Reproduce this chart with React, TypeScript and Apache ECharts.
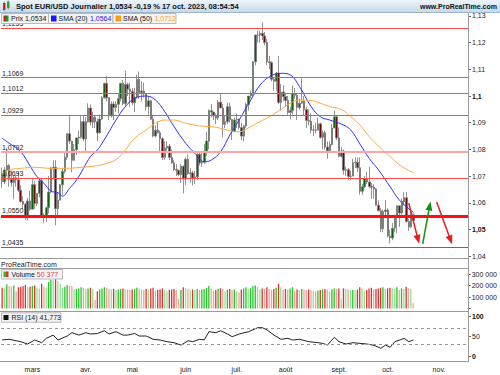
import React, { useEffect, useRef } from 'react';
import * as echarts from 'echarts';

const FONT = '"Liberation Sans", Arial, sans-serif';

// calendar: weekday slots starting 10 Feb 2023 (axis runs past the data to late November)
const firstDay = { year: 2023, month: 1, day: 10 };
const slotCount = 201;
const monthNames = ['janv.', 'févr.', 'mars', 'avr.', 'mai', 'juin', 'juil.', 'août', 'sept.', 'oct.', 'nov.', 'déc.'];

// daily EUR/USD, 10 Feb -> 17 Oct 2023 (open = previous close)
const firstOpen = 1.071;
const closes = [
  // févr.
  1.0679, 1.0723, 1.074, 1.0688, 1.0676, 1.0694, 1.0686, 1.0647, 1.0605, 1.0595, 1.0546, 1.0607, 1.0576,
  // mars
  1.0668, 1.0597, 1.0635, 1.0683, 1.0548, 1.0545, 1.0581, 1.064, 1.073, 1.0733, 1.0578, 1.061, 1.0668, 1.0718, 1.0771, 1.0859, 1.0831, 1.0759, 1.0799, 1.0843, 1.0846, 1.0904, 1.0839,
  // avr.
  1.0904, 1.0955, 1.0902, 1.0921, 1.0904, 1.0862, 1.0914, 1.0993, 1.1047, 1.0993, 1.0925, 1.097, 1.0957, 1.0969, 1.099, 1.1047, 1.0972, 1.1043, 1.1026, 1.1017,
  // mai
  1.0975, 1.0996, 1.1062, 1.1013, 1.1019, 1.1008, 1.096, 1.0982, 1.0913, 1.085, 1.0872, 1.0862, 1.084, 1.077, 1.0805, 1.0812, 1.077, 1.075, 1.0725, 1.0722, 1.0706, 1.0737, 1.0689,
  // juin
  1.0763, 1.0709, 1.0712, 1.0693, 1.0697, 1.0781, 1.0749, 1.0752, 1.0792, 1.0831, 1.0945, 1.094, 1.0925, 1.0918, 1.0977, 1.0955, 1.0894, 1.0904, 1.096, 1.0912, 1.0866, 1.091,
  // juil.
  1.0913, 1.0882, 1.085, 1.0888, 1.0968, 1.1, 1.1009, 1.1128, 1.1228, 1.1228, 1.1235, 1.1225, 1.12, 1.1128, 1.1125, 1.1063, 1.1055, 1.1086, 1.0976, 1.1015, 1.0998,
  // août
  1.0983, 1.0938, 1.0946, 1.101, 1.1003, 1.0957, 1.0973, 1.098, 1.0949, 1.0908, 1.0905, 1.0872, 1.0873, 1.0872, 1.0896, 1.0845, 1.0862, 1.0809, 1.0795, 1.0818, 1.088, 1.0922, 1.0843,
  // sept.
  1.0774, 1.0794, 1.0722, 1.0724, 1.0699, 1.07, 1.075, 1.0752, 1.0731, 1.0643, 1.066, 1.069, 1.0678, 1.0661, 1.0658, 1.0652, 1.0591, 1.057, 1.0503, 1.0567, 1.0573,
  // oct.
  1.0476, 1.0468, 1.0505, 1.0549, 1.0589, 1.0562, 1.0605, 1.0619, 1.053, 1.051, 1.0555, 1.0534,
];
const highs = [
  1.0732, 1.0734, 1.0805, 1.0745, 1.072, 1.07, 1.0703, 1.0715, 1.0665, 1.0625, 1.06, 1.0618, 1.0645,
  1.0691, 1.068, 1.0636, 1.0694, 1.0694, 1.056, 1.0585, 1.07, 1.0735, 1.076, 1.076, 1.0637, 1.067, 1.073, 1.0788, 1.086, 1.093, 1.083, 1.082, 1.0845, 1.087, 1.0926, 1.0925,
  1.092, 1.0973, 1.0968, 1.0941, 1.0925, 1.0915, 1.093, 1.1, 1.105, 1.1075, 1.0995, 1.098, 1.098, 1.098, 1.101, 1.105, 1.106, 1.1095, 1.105, 1.105,
  1.103, 1.103, 1.108, 1.1092, 1.1055, 1.105, 1.101, 1.1, 1.0985, 1.093, 1.089, 1.0905, 1.087, 1.0845, 1.083, 1.083, 1.082, 1.08, 1.076, 1.0745, 1.072, 1.0745, 1.074,
  1.077, 1.078, 1.073, 1.072, 1.072, 1.0785, 1.079, 1.079, 1.082, 1.0865, 1.095, 1.097, 1.0935, 1.0935, 1.0985, 1.101, 1.097, 1.0925, 1.0975, 1.0975, 1.0915, 1.092,
  1.0935, 1.0915, 1.09, 1.089, 1.0975, 1.1, 1.102, 1.113, 1.123, 1.1245, 1.1245, 1.1276, 1.124, 1.1215, 1.115, 1.113, 1.107, 1.109, 1.115, 1.1045, 1.104,
  1.101, 1.1, 1.096, 1.104, 1.103, 1.101, 1.099, 1.1065, 1.1, 1.096, 1.095, 1.0935, 1.089, 1.09, 1.092, 1.09, 1.087, 1.087, 1.083, 1.083, 1.0895, 1.0945, 1.093,
  1.0882, 1.081, 1.08, 1.0735, 1.073, 1.072, 1.0765, 1.077, 1.077, 1.077, 1.067, 1.07, 1.0715, 1.0735, 1.0675, 1.067, 1.0655, 1.061, 1.058, 1.0575, 1.061,
  1.058, 1.05, 1.0525, 1.0555, 1.059, 1.057, 1.0615, 1.064, 1.064, 1.054, 1.0565, 1.056,
];
const lows = [
  1.0656, 1.067, 1.07, 1.066, 1.066, 1.0613, 1.066, 1.064, 1.06, 1.0577, 1.0536, 1.0533, 1.057,
  1.0576, 1.0577, 1.0588, 1.062, 1.0548, 1.0524, 1.0528, 1.056, 1.0635, 1.069, 1.0516, 1.055, 1.061, 1.063, 1.071, 1.076, 1.082, 1.0714, 1.076, 1.078, 1.082, 1.084, 1.083,
  1.079, 1.09, 1.089, 1.088, 1.088, 1.083, 1.086, 1.091, 1.099, 1.098, 1.091, 1.092, 1.091, 1.094, 1.0935, 1.098, 1.0965, 1.096, 1.1, 1.096,
  1.0965, 1.094, 1.099, 1.099, 1.098, 1.0995, 1.0945, 1.093, 1.091, 1.0845, 1.0845, 1.086, 1.079, 1.076, 1.076, 1.0795, 1.076, 1.0745, 1.072, 1.07, 1.07, 1.0675, 1.0635,
  1.0665, 1.0705, 1.0675, 1.0665, 1.067, 1.0685, 1.074, 1.0735, 1.0745, 1.0775, 1.08, 1.092, 1.091, 1.0895, 1.091, 1.0955, 1.0845, 1.088, 1.0895, 1.09, 1.0835, 1.0865,
  1.088, 1.0875, 1.0835, 1.083, 1.088, 1.0945, 1.099, 1.1, 1.1115, 1.12, 1.12, 1.121, 1.119, 1.1115, 1.11, 1.1055, 1.102, 1.102, 1.097, 1.0945, 1.098,
  1.096, 1.093, 1.0912, 1.093, 1.099, 1.091, 1.095, 1.097, 1.0925, 1.088, 1.089, 1.086, 1.085, 1.086, 1.0885, 1.084, 1.08, 1.08, 1.0765, 1.079, 1.0815, 1.088, 1.0835,
  1.077, 1.077, 1.0705, 1.07, 1.0685, 1.0685, 1.07, 1.073, 1.0715, 1.063, 1.063, 1.0655, 1.067, 1.0655, 1.0615, 1.0615, 1.059, 1.057, 1.049, 1.049, 1.055,
  1.047, 1.0448, 1.046, 1.049, 1.0485, 1.051, 1.0555, 1.059, 1.0525, 1.0495, 1.0505, 1.053,
];
const volumes = [
  180000, 175000, 210000, 195000, 190000, 200000, 150000, 185000, 190000, 195000, 205000, 185000, 190000,
  195000, 200000, 180000, 175000, 215000, 190000, 185000, 230000, 250000, 245000, 260000, 240000, 215000, 180000, 190000, 205000, 200000, 195000, 165000, 170000, 175000, 185000, 180000,
  170000, 175000, 180000, 170000, 75000, 150000, 165000, 175000, 185000, 180000, 170000, 165000, 170000, 160000, 165000, 170000, 175000, 170000, 165000, 160000,
  165000, 170000, 180000, 175000, 165000, 160000, 170000, 165000, 175000, 180000, 155000, 160000, 165000, 175000, 160000, 150000, 160000, 165000, 170000, 160000, 85000, 160000, 185000,
  180000, 170000, 160000, 165000, 160000, 170000, 160000, 165000, 170000, 180000, 195000, 175000, 150000, 160000, 170000, 175000, 170000, 150000, 165000, 170000, 160000, 165000,
  150000, 140000, 165000, 175000, 185000, 170000, 175000, 195000, 200000, 190000, 165000, 175000, 170000, 185000, 170000, 165000, 170000, 180000, 215000, 185000, 160000,
  170000, 165000, 175000, 185000, 155000, 165000, 160000, 170000, 165000, 160000, 165000, 160000, 155000, 150000, 155000, 160000, 165000, 170000, 165000, 150000, 165000, 175000, 170000,
  175000, 90000, 175000, 170000, 165000, 160000, 160000, 155000, 165000, 185000, 175000, 155000, 160000, 175000, 180000, 165000, 170000, 175000, 180000, 185000, 170000,
  175000, 180000, 175000, 170000, 185000, 160000, 175000, 170000, 190000, 175000, 170000, 50377,
];

// indicators: [slot index, value]
const sma20Points = [
  [0, 1.0842], [3, 1.0823], [8, 1.0791], [12, 1.0738], [15, 1.0698], [18, 1.0673], [21, 1.0644], [24, 1.0638], [26, 1.0625],
  [29, 1.0654], [32, 1.0685], [35, 1.0729], [38, 1.0773], [41, 1.0798], [43, 1.0823], [46, 1.0866], [49, 1.091], [53, 1.096],
  [57, 1.0991], [62, 1.1], [66, 1.0985], [70, 1.0941], [74, 1.0885], [79, 1.0823], [83, 1.0785], [87, 1.0754], [90, 1.076],
  [94, 1.0791], [98, 1.0854], [102, 1.091], [107, 1.0985], [111, 1.1041], [115, 1.1072], [120, 1.1085], [124, 1.1079],
  [128, 1.1035], [133, 1.096], [137, 1.0922], [141, 1.091], [146, 1.0895], [150, 1.0873], [154, 1.082], [158, 1.0766],
  [162, 1.0723], [167, 1.066], [171, 1.061], [177, 1.0564],
];
const sma50Points = [
  [0, 1.071], [3, 1.0723], [8, 1.0729], [14, 1.0733], [21, 1.0729], [27, 1.0729], [34, 1.0733], [40, 1.0738], [44, 1.0745],
  [49, 1.0762], [53, 1.0798], [57, 1.0842], [62, 1.0873], [66, 1.0898], [70, 1.091], [74, 1.091], [79, 1.0898], [85, 1.0888],
  [92, 1.0883], [98, 1.087], [102, 1.0866], [107, 1.0885], [111, 1.0904], [115, 1.0922], [120, 1.095], [124, 1.0973],
  [128, 1.0985], [133, 1.0983], [137, 1.0973], [141, 1.096], [146, 1.095], [150, 1.0922], [154, 1.0891], [158, 1.0848],
  [163, 1.0804], [167, 1.0773], [171, 1.0742], [177, 1.0712],
];
const rsiPoints = [
  [0, 42], [3, 43.5], [8, 37.5], [11, 31.7], [14, 41.7], [17, 35], [19, 46], [22, 54], [24, 41.7], [28, 51.7], [30, 60],
  [33, 54], [36, 60], [38, 56.7], [41, 58], [44, 65], [46, 56.7], [49, 62.5], [52, 54], [54, 54], [57, 58], [59, 51.7],
  [62, 51.7], [65, 43.5], [68, 41.7], [71, 37.5], [74, 35], [77, 29], [80, 40], [82, 37.5], [85, 43.5], [87, 42], [89, 62.5],
  [92, 60], [94, 65], [97, 56.7], [99, 50], [102, 56.7], [106, 62.5], [110, 72.5], [112, 72.5], [114, 67], [117, 54],
  [120, 43.5], [123, 46], [125, 41.7], [128, 43.5], [132, 37.5], [136, 35], [138, 33.3], [140, 29], [143, 48.5], [145, 37.5],
  [148, 31.7], [151, 35], [154, 33.3], [157, 31.7], [160, 28.5], [163, 21], [165, 29], [167, 23.5], [169, 37.5], [172, 43.5],
  [173, 46], [175, 37.5], [177, 41.773],
];

// drawn levels and annotations
const levelValues = [1.1255, 1.1069, 1.1012, 1.0929, 1.0792, 1.0693];
const pivotLevel = 1.055;
const supportLevel = 1.0435;
const lastPrice = 1.0534;
const lastSma20 = 1.0564;
const lastSma50 = 1.0712;
const lastVolume = 50377;
const lastRsi = 41.773;
const rsiBands = [70, 30];
// [fromSlot, fromValue, toSlot, toValue]
const arrowPaths = [
  [175, 1.0599, 179, 1.0463],
  [181, 1.0446, 184, 1.0588],
  [187, 1.0603, 193, 1.0461],
];
const arrowColors = ['#e41e1e', '#158f15', '#e41e1e'];

function buildSlots(): string[] {
  const out: string[] = [];
  const d = new Date(Date.UTC(firstDay.year, firstDay.month, firstDay.day));
  while (out.length < slotCount) {
    const wd = d.getUTCDay();
    if (wd !== 0 && wd !== 6) out.push(d.toISOString().slice(0, 10));
    d.setUTCDate(d.getUTCDate() + 1);
  }
  return out;
}

const fmtPrice = (v: number, digits = 4) => v.toFixed(digits).replace('.', ',');
const fmtThousands = (v: number) => String(Math.round(v)).replace(/\B(?=(\d{3})+(?!\d))/g, ' ');

export default function App() {
  const ref = useRef<HTMLDivElement>(null);

  useEffect(() => {
    if (!ref.current) return;
    const chart = echarts.init(ref.current, undefined, { renderer: 'svg' });
    const slots = buildSlots();

    const candles = closes.map((c, i) => {
      const o = i === 0 ? firstOpen : closes[i - 1];
      return [o, c, Math.min(lows[i], o, c), Math.max(highs[i], o, c)];
    });
    const volData = volumes.map((v, i) => {
      const up = candles[i][1] >= candles[i][0];
      const weaker = i > 0 && v < volumes[i - 1];
      const color = up ? (weaker ? '#93e293' : '#22c622') : (weaker ? '#f3a0a0' : '#e23030');
      return { value: v, itemStyle: { color } };
    });

    const gridLeft = 1;
    const gridRight = 32;

    const levelLines = levelValues.map((v) => ({
      yAxis: v,
      lineStyle: v === 1.0792 ? { color: '#ffa3a3', width: 2, type: 'solid' } : { color: '#ff4a4a', width: 1, type: 'solid' },
      label: { show: true, position: 'insideStartTop', formatter: fmtPrice(v), color: '#222', fontSize: 7, fontFamily: FONT, distance: [1, 1] },
    }));
    const arrowLines = arrowPaths.map((a, k) => [
      { coord: [a[0], a[1]], symbol: 'none', lineStyle: { color: arrowColors[k], width: 1.5, type: 'solid' } },
      { coord: [a[2], a[3]], symbol: 'triangle', symbolSize: [7, 9], itemStyle: { color: arrowColors[k] }, lineStyle: { color: arrowColors[k], width: 1.5, type: 'solid' } },
    ]);

    const option: any = {
      animation: false,
      backgroundColor: '#ffffff',
      textStyle: { fontFamily: FONT },
      grid: [
        { left: gridLeft, right: gridRight, top: 15.9, height: 240.3 },
        { left: gridLeft, right: gridRight, top: 274, height: 34.5 },
        { left: gridLeft, right: gridRight, top: 316.7, height: 40 },
      ],
      xAxis: [0, 1, 2].map((g) => ({
        type: 'category',
        gridIndex: g,
        data: slots,
        boundaryGap: true,
        show: g === 2,
        axisLine: { show: false },
        axisTick: { show: false },
        splitLine: { show: false },
        axisLabel: {
          show: g === 2,
          fontSize: 7,
          color: '#222',
          fontFamily: FONT,
          margin: 9,
          interval: (idx: number) => idx > 0 && slots[idx].slice(5, 7) !== slots[idx - 1].slice(5, 7),
          formatter: (val: string) => monthNames[Number(val.slice(5, 7)) - 1],
        },
      })),
      yAxis: [
        {
          type: 'value', gridIndex: 0, position: 'right', min: 1.04, max: 1.13, interval: 0.01, scale: true,
          axisLine: { show: false }, splitLine: { show: false },
          axisTick: { show: true, length: 3, lineStyle: { color: '#666' } },
          axisLabel: {
            fontSize: 7, color: '#222', margin: 4, fontFamily: FONT,
            formatter: (v: number) => {
              const s = String(Number(v.toFixed(4))).replace('.', ',');
              return Math.abs(v - 1.1) < 1e-6 || Math.abs(v - 1.05) < 1e-6 ? `{b|${s}}` : s;
            },
            rich: { b: { fontWeight: 'bold', fontSize: 7, fontFamily: FONT, color: '#111' } },
          },
        },
        {
          type: 'value', gridIndex: 1, position: 'right', min: 0, max: 300000, interval: 100000,
          axisLine: { show: false }, splitLine: { show: false },
          axisTick: { show: true, length: 3, lineStyle: { color: '#666' } },
          axisLabel: { fontSize: 7, color: '#222', margin: 4, fontFamily: FONT, formatter: (v: number) => (v === 0 ? '' : fmtThousands(v)) },
        },
        {
          type: 'value', gridIndex: 2, position: 'right', min: 0, max: 100, interval: 50,
          axisLine: { show: false }, splitLine: { show: false },
          axisTick: { show: true, length: 3, lineStyle: { color: '#666' } },
          axisLabel: {
            fontSize: 7, color: '#222', margin: 4, fontFamily: FONT,
            formatter: (v: number) => (v === 50 ? '50' : `{b|${v}}`),
            rich: { b: { fontWeight: 'bold', fontSize: 7, fontFamily: FONT, color: '#111' } },
          },
        },
      ],
      series: [
        {
          type: 'candlestick',
          xAxisIndex: 0, yAxisIndex: 0,
          data: candles,
          barWidth: 2,
          itemStyle: { color: '#0b660b', color0: '#6e0a0a', borderColor: '#777777', borderColor0: '#777777', borderWidth: 0.8 },
          markLine: {
            silent: true,
            precision: 4,
            symbol: ['none', 'none'],
            label: { show: false },
            data: [
              ...levelLines,
              {
                yAxis: pivotLevel,
                lineStyle: { color: '#ff1010', width: 3, type: 'solid' },
                label: { show: true, position: 'insideStartTop', formatter: fmtPrice(pivotLevel), color: '#222', fontSize: 7, fontFamily: FONT, distance: [1, 2] },
              },
              {
                yAxis: supportLevel,
                lineStyle: { color: '#2a9a2a', width: 1, type: 'solid' },
                label: { show: true, position: 'insideStartTop', formatter: fmtPrice(supportLevel), color: '#222', fontSize: 7, fontFamily: FONT, distance: [1, 1] },
              },
              ...arrowLines,
              {
                yAxis: lastPrice,
                lineStyle: { opacity: 0 },
                label: {
                  show: true, position: 'end', formatter: fmtPrice(lastPrice), distance: 1,
                  backgroundColor: '#ffd700', borderColor: '#b59800', borderWidth: 1, padding: [2, 2, 1, 2],
                  color: '#000', fontSize: 7.5, fontWeight: 'bold', fontFamily: FONT,
                },
              },
            ],
          },
          z: 2,
        },
        {
          type: 'line', name: 'SMA (20)', xAxisIndex: 0, yAxisIndex: 0,
          data: sma20Points, smooth: 0.4, showSymbol: false, symbol: 'none',
          lineStyle: { color: '#2f2fff', width: 1 }, z: 3,
        },
        {
          type: 'line', name: 'SMA (50)', xAxisIndex: 0, yAxisIndex: 0,
          data: sma50Points, smooth: 0.4, showSymbol: false, symbol: 'none',
          lineStyle: { color: '#ffa940', width: 1 }, z: 3,
        },
        {
          type: 'bar', name: 'Volume', xAxisIndex: 1, yAxisIndex: 1,
          data: volData, barWidth: 1.3,
          markLine: {
            silent: true, precision: 0, symbol: ['none', 'none'],
            data: [{
              yAxis: lastVolume,
              lineStyle: { opacity: 0 },
              label: {
                show: true, position: 'end', formatter: fmtThousands(lastVolume), distance: 1,
                backgroundColor: '#fff', borderColor: '#8a8a8a', borderWidth: 1, padding: [2, 2, 1, 2],
                color: '#e04a4a', fontSize: 7, fontFamily: FONT,
              },
            }],
          },
        },
        {
          type: 'line', name: 'RSI (14)', xAxisIndex: 2, yAxisIndex: 2,
          data: rsiPoints, showSymbol: false, symbol: 'none',
          lineStyle: { color: '#222', width: 1 },
          markLine: {
            silent: true, precision: 3, symbol: ['none', 'none'],
            label: { show: false },
            data: [
              ...rsiBands.map((b) => ({ yAxis: b, lineStyle: { color: '#9a9a9a', width: 1, type: [3, 3] } })),
              {
                yAxis: lastRsi,
                lineStyle: { opacity: 0 },
                label: {
                  show: true, position: 'end', formatter: fmtPrice(lastRsi, 3), distance: 1,
                  backgroundColor: '#fff', borderColor: '#8a8a8a', borderWidth: 1, padding: [2, 2, 1, 2],
                  color: '#111', fontSize: 7, fontFamily: FONT,
                },
              },
            ],
          },
        },
      ],
      graphic: [
        // title bar
        {
          type: 'rect', shape: { x: 0, y: 0, width: 500, height: 12 }, z: 50,
          style: { fill: new echarts.graphic.LinearGradient(0, 0, 0, 1, [{ offset: 0, color: '#eef5fb' }, { offset: 1, color: '#c6daeb' }]) },
        },
        { type: 'line', shape: { x1: 0, y1: 12.5, x2: 500, y2: 12.5 }, style: { stroke: '#9fb6c9', lineWidth: 1 }, z: 50 },
        { type: 'rect', shape: { x: 3, y: 3, width: 2.5, height: 7 }, style: { fill: '#d22' }, z: 51 },
        { type: 'rect', shape: { x: 7, y: 1.5, width: 2.5, height: 6.5 }, style: { fill: '#2a2' }, z: 51 },
        { type: 'line', shape: { x1: 4.25, y1: 1.5, x2: 4.25, y2: 11 }, style: { stroke: '#555', lineWidth: 0.6 }, z: 50 },
        { type: 'line', shape: { x1: 8.25, y1: 0.5, x2: 8.25, y2: 9.5 }, style: { stroke: '#555', lineWidth: 0.6 }, z: 50 },
        {
          type: 'text', x: 16, y: 6.3, z: 52,
          style: { text: `Spot EUR/USD Journalier ${fmtPrice(lastPrice)} -0,19 % 17 oct. 2023, 08:54:54`, fontSize: 7.5, fontWeight: 'bold', fontFamily: FONT, fill: '#111', verticalAlign: 'middle' },
        },
        {
          type: 'text', x: 497, y: 6.3, z: 52,
          style: { text: 'www.ProRealTime.com', fontSize: 7, fontWeight: 'bold', fontFamily: FONT, fill: '#111', align: 'right', verticalAlign: 'middle' },
        },
        // legend: Prix / SMA (20) / SMA (50)
        { type: 'rect', shape: { x: 1.5, y: 13.5, width: 47, height: 10 }, style: { fill: '#f3f3f3', stroke: '#b9b9b9', lineWidth: 1 }, z: 60 },
        { type: 'rect', shape: { x: 3.5, y: 15.5, width: 2.5, height: 6 }, style: { fill: '#c81e1e' }, z: 61 },
        { type: 'rect', shape: { x: 6, y: 15.5, width: 2.5, height: 6 }, style: { fill: '#1e9a1e' }, z: 61 },
        { type: 'text', x: 11, y: 18.7, z: 61, style: { text: `Prix ${fmtPrice(lastPrice)}`, fontSize: 7, fontFamily: FONT, fill: '#111', verticalAlign: 'middle' } },
        { type: 'rect', shape: { x: 48.5, y: 13.5, width: 64.5, height: 10 }, style: { fill: '#f3f3f3', stroke: '#b9b9b9', lineWidth: 1 }, z: 60 },
        { type: 'rect', shape: { x: 51, y: 15.5, width: 5.5, height: 6 }, style: { fill: '#1a1aff' }, z: 61 },
        {
          type: 'text', x: 58.5, y: 18.7, z: 61,
          style: { text: `{a|SMA (20) }{b|${fmtPrice(lastSma20)}}`, fontSize: 7, fontFamily: FONT, verticalAlign: 'middle', rich: { a: { fill: '#111', fontSize: 7, fontFamily: FONT }, b: { fill: '#1a1aff', fontSize: 7, fontFamily: FONT } } },
        },
        { type: 'rect', shape: { x: 113, y: 13.5, width: 63, height: 10 }, style: { fill: '#f3f3f3', stroke: '#b9b9b9', lineWidth: 1 }, z: 60 },
        { type: 'rect', shape: { x: 115.5, y: 15.5, width: 5.5, height: 6 }, style: { fill: '#ff9a1a' }, z: 61 },
        {
          type: 'text', x: 123, y: 18.7, z: 61,
          style: { text: `{a|SMA (50) }{b|${fmtPrice(lastSma50)}}`, fontSize: 7, fontFamily: FONT, verticalAlign: 'middle', rich: { a: { fill: '#111', fontSize: 7, fontFamily: FONT }, b: { fill: '#f5a030', fontSize: 7, fontFamily: FONT } } },
        },
        // panel separators and right axis line
        { type: 'line', shape: { x1: 0, y1: 258.5, x2: 468, y2: 258.5 }, style: { stroke: '#9a9a9a', lineWidth: 1 }, z: 40 },
        { type: 'line', shape: { x1: 0, y1: 268.5, x2: 468, y2: 268.5 }, style: { stroke: '#9a9a9a', lineWidth: 1 }, z: 40 },
        { type: 'line', shape: { x1: 0, y1: 311.5, x2: 468, y2: 311.5 }, style: { stroke: '#9a9a9a', lineWidth: 1 }, z: 40 },
        { type: 'line', shape: { x1: 0, y1: 361.5, x2: 468, y2: 361.5 }, style: { stroke: '#9a9a9a', lineWidth: 1 }, z: 40 },
        { type: 'line', shape: { x1: 468.5, y1: 12.5, x2: 468.5, y2: 362 }, style: { stroke: '#9a9a9a', lineWidth: 1 }, z: 40 },
        { type: 'text', x: 1, y: 264, z: 52, style: { text: 'ProRealTime.com', fontSize: 7, fontFamily: FONT, fill: '#222', verticalAlign: 'middle' } },
        // volume legend
        { type: 'rect', shape: { x: 1.5, y: 269.5, width: 61, height: 9.5 }, style: { fill: '#f3f3f3', stroke: '#b9b9b9', lineWidth: 1 }, z: 60 },
        { type: 'rect', shape: { x: 3.5, y: 271.5, width: 2.5, height: 5.5 }, style: { fill: '#22c622' }, z: 61 },
        { type: 'rect', shape: { x: 6, y: 271.5, width: 2.5, height: 5.5 }, style: { fill: '#e23030' }, z: 61 },
        {
          type: 'text', x: 11.5, y: 274.4, z: 61,
          style: { text: `{a|Volume }{b|${fmtThousands(lastVolume)}}`, fontSize: 7, fontFamily: FONT, verticalAlign: 'middle', rich: { a: { fill: '#111', fontSize: 7, fontFamily: FONT }, b: { fill: '#e04a4a', fontSize: 7, fontFamily: FONT } } },
        },
        // RSI legend
        { type: 'rect', shape: { x: 1.5, y: 312.8, width: 59.5, height: 9.5 }, style: { fill: '#f3f3f3', stroke: '#b9b9b9', lineWidth: 1 }, z: 60 },
        { type: 'rect', shape: { x: 3.5, y: 315, width: 5, height: 5 }, style: { fill: '#111' }, z: 61 },
        { type: 'text', x: 11.5, y: 317.7, z: 61, style: { text: `RSI (14) ${fmtPrice(lastRsi, 3)}`, fontSize: 7, fontFamily: FONT, fill: '#111', verticalAlign: 'middle' } },
      ],
    };

    chart.setOption(option);
    return () => chart.dispose();
  }, []);

  return <div ref={ref} style={{ position: 'fixed', left: 0, top: 0, width: 500, height: 375, background: '#fff' }} />;
}
